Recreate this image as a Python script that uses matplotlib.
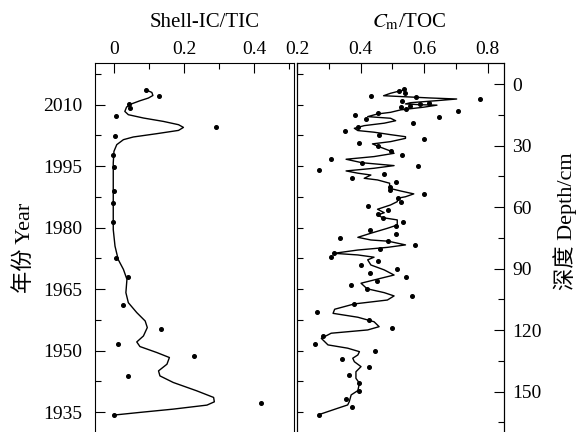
import matplotlib
matplotlib.use("Agg")
import matplotlib.pyplot as plt
from matplotlib.ticker import MultipleLocator, FuncFormatter

plt.rcParams['font.family'] = ['Liberation Serif', 'Noto Sans CJK SC']
plt.rcParams['mathtext.fontset'] = 'stix'

# Shell-IC/TIC vs year: measured points
shell_year = [2013.65, 2012.02, 2010.17, 2009.2, 2007.32, 2004.47, 2002.45, 1997.65,
              1994.73, 1988.99, 1986.14, 1981.27, 1972.67, 1967.95, 1961.13, 1955.38,
              1951.56, 1948.64, 1943.84, 1937.12, 1934.27]
shell_val = [0.091, 0.129, 0.044, 0.046, 0.006, 0.291, 0.003, -0.004,
             0.001, -0.001, -0.002, -0.002, 0.006, 0.039, 0.027, 0.133,
             0.011, 0.229, 0.039, 0.420, -0.001]

# Shell-IC/TIC smoothed curve
shell_fit_year = [2013.65, 2013.0, 2012.26, 2011.63, 2010.97, 2010.24, 2009.44, 2008.37,
                  2007.57, 2006.76, 2005.93, 2005.13, 2004.47, 2003.74, 2002.94, 2002.13,
                  2001.48, 2000.26, 1998.63, 1995.8, 1987.67, 1979.56, 1975.5, 1972.26,
                  1969.82, 1967.4, 1964.15, 1961.7, 1959.28, 1957.23, 1955.63, 1953.58,
                  1952.12, 1951.0, 1949.54, 1948.32, 1946.69, 1945.06, 1943.84, 1942.23,
                  1940.19, 1938.58, 1937.51, 1936.71, 1935.73, 1934.93, 1934.27]
shell_fit_val = [0.091, 0.108, 0.111, 0.098, 0.074, 0.051, 0.036, 0.031,
                 0.041, 0.084, 0.141, 0.184, 0.198, 0.184, 0.122, 0.055,
                 0.027, 0.008, 0.0, -0.002, -0.002, -0.002, 0.003, 0.012,
                 0.027, 0.037, 0.034, 0.041, 0.065, 0.089, 0.095, 0.084,
                 0.065, 0.074, 0.122, 0.158, 0.151, 0.127, 0.131, 0.169,
                 0.236, 0.284, 0.286, 0.265, 0.169, 0.074, -0.001]

# Cm/TOC vs depth: measured points
cm_depth = [5.6, 3.1, 2.4, 4.1, 6.3, 7.3, 8.3, 9.6, 9.3, 10.6, 11.2, 12.2, 13.2, 14.2,
            15.1, 16.1, 16.9, 19.0, 20.8, 22.8, 24.7, 26.5, 28.6, 30.3, 32.6, 34.4,
            36.3, 38.3, 40.0, 42.0, 43.9, 45.9, 47.8, 50.0, 51.6, 53.5, 55.6, 57.4,
            59.4, 61.3, 63.2, 65.1, 67.1, 69.0, 71.0, 72.9, 74.9, 76.6, 78.6, 80.4,
            82.5, 84.3, 86.2, 88.2, 90.1, 92.1, 93.9, 96.0, 97.8, 99.8, 103.5, 107.2,
            111.3, 115.0, 118.9, 122.7, 126.6, 130.3, 134.2, 138.1, 142.0, 145.9,
            149.7, 153.6, 157.3, 161.2]
cm_val = [0.432, 0.520, 0.536, 0.538, 0.573, 0.775, 0.531, 0.588, 0.614, 0.554, 0.526,
          0.543, 0.706, 0.453, 0.382, 0.646, 0.416, 0.564, 0.391, 0.352, 0.458, 0.598,
          0.396, 0.455, 0.494, 0.531, 0.305, 0.404, 0.581, 0.268, 0.474, 0.373, 0.511,
          0.491, 0.491, 0.600, 0.517, 0.528, 0.422, 0.485, 0.454, 0.469, 0.534, 0.511,
          0.429, 0.511, 0.334, 0.487, 0.571, 0.461, 0.316, 0.305, 0.454, 0.402, 0.513,
          0.428, 0.542, 0.450, 0.371, 0.420, 0.560, 0.380, 0.264, 0.425, 0.500, 0.282,
          0.257, 0.445, 0.342, 0.427, 0.364, 0.396, 0.394, 0.355, 0.374, 0.269]

# Cm/TOC smoothed curve
cm_fit_depth = [2.8, 4.4, 5.6, 6.0, 6.7, 7.2, 8.0, 9.0, 9.6, 10.0, 10.2, 11.2, 12.5,
                13.7, 14.5, 15.8, 16.6, 17.8, 19.0, 20.2, 21.5, 22.6, 23.4, 24.6, 25.6,
                26.4, 28.0, 29.1, 30.3, 32.6, 33.7, 35.3, 36.6, 38.3, 39.7, 41.0, 42.3,
                43.4, 44.3, 45.9, 46.7, 48.3, 50.8, 52.1, 53.5, 54.9, 55.6, 57.3, 58.9,
                61.0, 62.7, 63.8, 65.1, 66.2, 68.7, 70.3, 72.7, 74.7, 76.0, 76.6, 78.4,
                79.6, 80.9, 82.5, 83.3, 84.4, 85.7, 88.2, 90.6, 93.1, 94.7, 97.1, 99.8,
                101.7, 103.3, 105.3, 107.2, 109.8, 111.8, 113.7, 115.9, 118.3, 119.9,
                121.5, 124.0, 127.2, 128.8, 130.5, 132.1, 133.7, 135.4, 137.8, 140.3,
                143.5, 145.9, 149.5, 151.6, 154.9, 156.5, 158.1, 161.2]
cm_fit_val = [0.535, 0.494, 0.472, 0.526, 0.619, 0.702, 0.640, 0.557, 0.541, 0.588,
              0.640, 0.598, 0.526, 0.494, 0.453, 0.422, 0.494, 0.510, 0.474, 0.411,
              0.380, 0.391, 0.442, 0.494, 0.541, 0.541, 0.494, 0.437, 0.455, 0.494,
              0.505, 0.442, 0.354, 0.404, 0.505, 0.442, 0.354, 0.391, 0.432, 0.411,
              0.453, 0.491, 0.491, 0.526, 0.567, 0.541, 0.517, 0.515, 0.494, 0.453,
              0.474, 0.453, 0.469, 0.515, 0.515, 0.484, 0.432, 0.391, 0.432, 0.487,
              0.541, 0.484, 0.391, 0.316, 0.391, 0.442, 0.422, 0.432, 0.474, 0.505,
              0.463, 0.401, 0.420, 0.474, 0.505, 0.484, 0.380, 0.318, 0.313, 0.391,
              0.442, 0.458, 0.422, 0.307, 0.276, 0.297, 0.359, 0.396, 0.391, 0.375,
              0.380, 0.401, 0.385, 0.385, 0.396, 0.391, 0.370, 0.364, 0.359, 0.328,
              0.269]

fs = 14
fig = plt.figure(figsize=(5.82, 4.32), dpi=100)
ax1 = fig.add_axes([95 / 582, -0.0014, 199 / 582, 0.855])
ax2 = fig.add_axes([297 / 582, -0.0014, 207 / 582, 0.855])

fmt = FuncFormatter(lambda v, p: f'{round(v, 2):g}')

# left panel
ax1.plot(shell_fit_val, shell_fit_year, color='black', lw=1.0)
ax1.plot(shell_val, shell_year, 'o', color='black', ms=2.6)
ax1.set_xlim(-0.054, 0.513)
ax1.set_ylim(1930, 2020.125)
ax1.xaxis.set_major_locator(MultipleLocator(0.2))
ax1.xaxis.set_minor_locator(MultipleLocator(0.1))
ax1.yaxis.set_major_locator(MultipleLocator(15))
ax1.yaxis.set_minor_locator(MultipleLocator(7.5))
ax1.xaxis.tick_top()
ax1.xaxis.set_label_position('top')
ax1.set_xlabel('Shell-IC/TIC', fontsize=fs + 1)
ax1.xaxis.set_label_coords(0.553, 1.097)
ax1.set_ylabel('年份 Year', fontsize=fs + 2)
ax1.yaxis.set_label_coords(-0.30, 0.5)
ax1.tick_params(axis='both', which='both', direction='in', labelsize=fs)
ax1.tick_params(axis='x', which='both', top=True, bottom=False, pad=3.5)
ax1.tick_params(axis='y', which='both', left=True, right=False, pad=9)
ax1.tick_params(which='major', length=7, width=0.8)
ax1.tick_params(which='minor', length=4, width=0.8)
ax1.xaxis.set_major_formatter(fmt)

# right panel
ax2.plot(cm_fit_val, cm_fit_depth, color='black', lw=1.0)
ax2.plot(cm_val, cm_depth, 'o', color='black', ms=2.6)
ax2.set_xlim(0.1995, 0.851)
ax2.set_ylim(170, -10.25)
ax2.xaxis.set_major_locator(MultipleLocator(0.2))
ax2.xaxis.set_minor_locator(MultipleLocator(0.1))
ax2.yaxis.set_major_locator(MultipleLocator(30))
ax2.yaxis.set_minor_locator(MultipleLocator(15))
ax2.xaxis.tick_top()
ax2.xaxis.set_label_position('top')
ax2.set_xlabel(r'$C_{\mathrm{m}}$/TOC', fontsize=fs + 1)
ax2.xaxis.set_label_coords(0.541, 1.097)
ax2.yaxis.tick_right()
ax2.yaxis.set_label_position('right')
ax2.set_ylabel('深度 Depth/cm', fontsize=fs + 2)
ax2.yaxis.set_label_coords(1.235, 0.573)
ax2.tick_params(axis='both', which='both', direction='in', labelsize=fs)
ax2.tick_params(axis='x', which='both', top=True, bottom=False, pad=3.5)
ax2.tick_params(axis='y', which='both', right=True, left=False, pad=6)
ax2.tick_params(which='major', length=7, width=0.8)
ax2.tick_params(which='minor', length=4, width=0.8)
ax2.xaxis.set_major_formatter(fmt)

# year ticks on the left edge of the right panel
ax3 = ax2.twinx()
ax3.set_ylim(1930, 2020.125)
ax3.yaxis.set_major_locator(MultipleLocator(7.5))
ax3.yaxis.set_ticks_position('left')
ax3.tick_params(axis='y', direction='in', length=4, width=0.8, labelleft=False, labelright=False)
ax2.yaxis.tick_right()

for ax in (ax1, ax2, ax3):
    for s in ax.spines.values():
        s.set_linewidth(0.8)

fig.savefig('out.png', dpi=100)
